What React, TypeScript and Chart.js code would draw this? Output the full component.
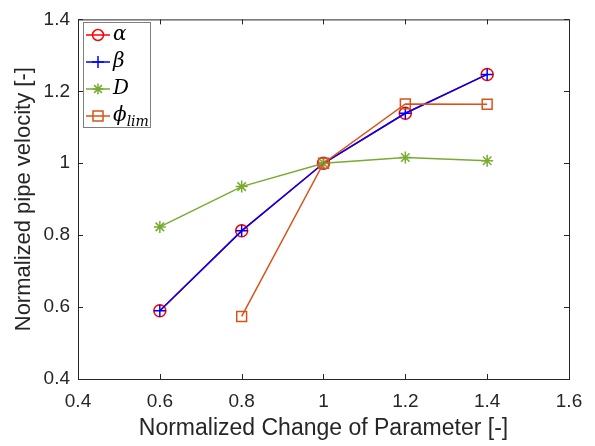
import React, { useEffect, useRef } from "react";
import { Chart, registerables } from "chart.js";

Chart.register(...registerables);

const xValues = [0.6, 0.8, 1.0, 1.2, 1.4];
const alphaValues = [0.59, 0.812, 1.0, 1.139, 1.247];
const betaValues = [0.59, 0.812, 1.0, 1.139, 1.247];
const dValues = [0.823, 0.935, 1.0, 1.016, 1.007];
const phiX = [0.8, 1.0, 1.2, 1.4];
const phiValues = [0.574, 1.0, 1.165, 1.164];
const xTicks = [0.4, 0.6, 0.8, 1.0, 1.2, 1.4, 1.6];
const yTicks = [0.4, 0.6, 0.8, 1.0, 1.2, 1.4];

const RED = "#FF0000";
const BLUE = "#0000FF";
const GREEN = "#77AC30";
const ORANGE = "#D95319";
const AXIS = "#262626";
const SANS = "'Liberation Sans', Arial, sans-serif";

const fmt = (v: number) => (Math.abs(v - 1) < 1e-9 ? "1" : v.toFixed(1));

const boxPlugin = {
  id: "boxTicks",
  afterDraw(chart: any) {
    const { ctx, chartArea } = chart;
    const { left, right, top, bottom } = chartArea;
    const xs = chart.scales.x;
    const ys = chart.scales.y;
    ctx.save();
    ctx.strokeStyle = AXIS;
    ctx.lineWidth = 1;
    ctx.strokeRect(left + 0.5, top + 0.5, right - left, bottom - top);
    const tl = 5;
    ctx.beginPath();
    for (const t of xTicks) {
      const px = Math.round(xs.getPixelForValue(t)) + 0.5;
      ctx.moveTo(px, bottom);
      ctx.lineTo(px, bottom - tl);
      ctx.moveTo(px, top);
      ctx.lineTo(px, top + tl);
    }
    for (const t of yTicks) {
      const py = Math.round(ys.getPixelForValue(t)) + 0.5;
      ctx.moveTo(left, py);
      ctx.lineTo(left + tl, py);
      ctx.moveTo(right, py);
      ctx.lineTo(right - tl, py);
    }
    ctx.stroke();

    // legend
    const lx = 83, ly = 22, lw = 67, lh = 105;
    ctx.fillStyle = "#ffffff";
    ctx.fillRect(lx, ly, lw, lh);
    ctx.strokeStyle = "#7f7f7f";
    ctx.strokeRect(lx + 0.5, ly + 0.5, lw, lh);
    const rows = [
      { c: RED, m: "circle", label: "α", sub: "" },
      { c: BLUE, m: "cross", label: "β", sub: "" },
      { c: GREEN, m: "star", label: "D", sub: "" },
      { c: ORANGE, m: "rect", label: "ϕ", sub: "lim" },
    ];
    rows.forEach((r, i) => {
      const y = 35 + i * 27;
      ctx.strokeStyle = r.c;
      ctx.lineWidth = 1.5;
      ctx.beginPath();
      ctx.moveTo(86, y);
      ctx.lineTo(110, y);
      ctx.stroke();
      ctx.beginPath();
      const mx = 98;
      if (r.m === "circle") {
        ctx.arc(mx, y, 5.5, 0, Math.PI * 2);
      } else if (r.m === "cross") {
        ctx.moveTo(mx - 6, y); ctx.lineTo(mx + 6, y);
        ctx.moveTo(mx, y - 6); ctx.lineTo(mx, y + 6);
      } else if (r.m === "star") {
        for (let k = 0; k < 4; k++) {
          const a = (k * Math.PI) / 4;
          ctx.moveTo(mx - 5.5 * Math.cos(a), y - 5.5 * Math.sin(a));
          ctx.lineTo(mx + 5.5 * Math.cos(a), y + 5.5 * Math.sin(a));
        }
      } else {
        ctx.rect(mx - 5, y - 5, 10, 10);
      }
      ctx.stroke();
      ctx.fillStyle = "#000000";
      ctx.font = "italic 20px 'DejaVu Serif', 'Liberation Serif', serif";
      ctx.textBaseline = "middle";
      ctx.textAlign = "left";
      ctx.fillText(r.label, 113, y);
      if (r.sub) {
        const w = ctx.measureText(r.label).width;
        ctx.font = "italic 14px 'DejaVu Serif', 'Liberation Serif', serif";
        ctx.fillText(r.sub, 113 + w, y + 6);
      }
    });
    ctx.restore();
  },
};

export default function App() {
  const ref = useRef<HTMLCanvasElement | null>(null);
  useEffect(() => {
    if (!ref.current) return;
    const pts = (xs: number[], ys: number[]) => xs.map((x, i) => ({ x, y: ys[i] }));
    const chart = new Chart(ref.current, {
      type: "line",
      data: {
        datasets: [
          {
            label: "phi",
            data: pts(phiX, phiValues),
            borderColor: ORANGE,
            backgroundColor: "transparent",
            borderWidth: 1.5,
            pointStyle: "rect",
            pointRadius: 7,
            pointBackgroundColor: "transparent",
            pointBorderColor: ORANGE,
            pointBorderWidth: 1.5,
          },
          {
            label: "D",
            data: pts(xValues, dValues),
            borderColor: GREEN,
            backgroundColor: "transparent",
            borderWidth: 1.5,
            pointStyle: "star",
            pointRadius: 6,
            pointBorderColor: GREEN,
            pointBorderWidth: 1.5,
          },
          {
            label: "beta",
            data: pts(xValues, betaValues),
            borderColor: BLUE,
            backgroundColor: "transparent",
            borderWidth: 1.5,
            pointStyle: "cross",
            pointRadius: 6,
            pointBorderColor: BLUE,
            pointBorderWidth: 1.5,
          },
          {
            label: "alpha",
            data: pts(xValues, alphaValues),
            borderColor: RED,
            backgroundColor: "transparent",
            borderWidth: 1.5,
            pointStyle: "circle",
            pointRadius: 6,
            pointBackgroundColor: "transparent",
            pointBorderColor: RED,
            pointBorderWidth: 1.5,
          },
        ],
      },
      options: {
        animation: false,
        responsive: false,
        layout: { padding: { top: 17, right: 26, left: 0, bottom: 0 } },
        plugins: { legend: { display: false }, tooltip: { enabled: false } },
        scales: {
          x: {
            type: "linear",
            min: 0.4,
            max: 1.6,
            afterBuildTicks: (s: any) => {
              s.ticks = xTicks.map((v) => ({ value: v }));
            },
            afterFit: (s: any) => {
              s.height = 67;
            },
            grid: { display: false, drawTicks: false, tickLength: 0 },
            border: { display: false },
            ticks: {
              color: AXIS,
              padding: 11,
              maxRotation: 0,
              font: { family: SANS, size: 19 },
              callback: (v: any) => fmt(Number(v)),
            },
            title: {
              display: true,
              text: "Normalized Change of Parameter [-]",
              color: AXIS,
              font: { family: SANS, size: 23 },
              padding: { top: 0, bottom: 4 },
            },
          },
          y: {
            type: "linear",
            min: 0.4,
            max: 1.4,
            afterBuildTicks: (s: any) => {
              s.ticks = yTicks.map((v) => ({ value: v }));
            },
            afterFit: (s: any) => {
              s.width = 78;
            },
            grid: { display: false, drawTicks: false, tickLength: 0 },
            border: { display: false },
            ticks: {
              color: AXIS,
              padding: 8,
              font: { family: SANS, size: 19 },
              callback: (v: any) => fmt(Number(v)),
            },
            title: {
              display: true,
              text: "Normalized pipe velocity [-]",
              color: AXIS,
              font: { family: SANS, size: 22 },
              padding: { top: 11, bottom: 0 },
            },
          },
        },
      },
      plugins: [boxPlugin],
    });
    return () => chart.destroy();
  }, []);
  return (
    <div style={{ position: "fixed", left: 0, top: 0, width: 595, height: 446, background: "#fff" }}>
      <canvas ref={ref} width={595} height={446} style={{ width: 595, height: 446 }} />
    </div>
  );
}
